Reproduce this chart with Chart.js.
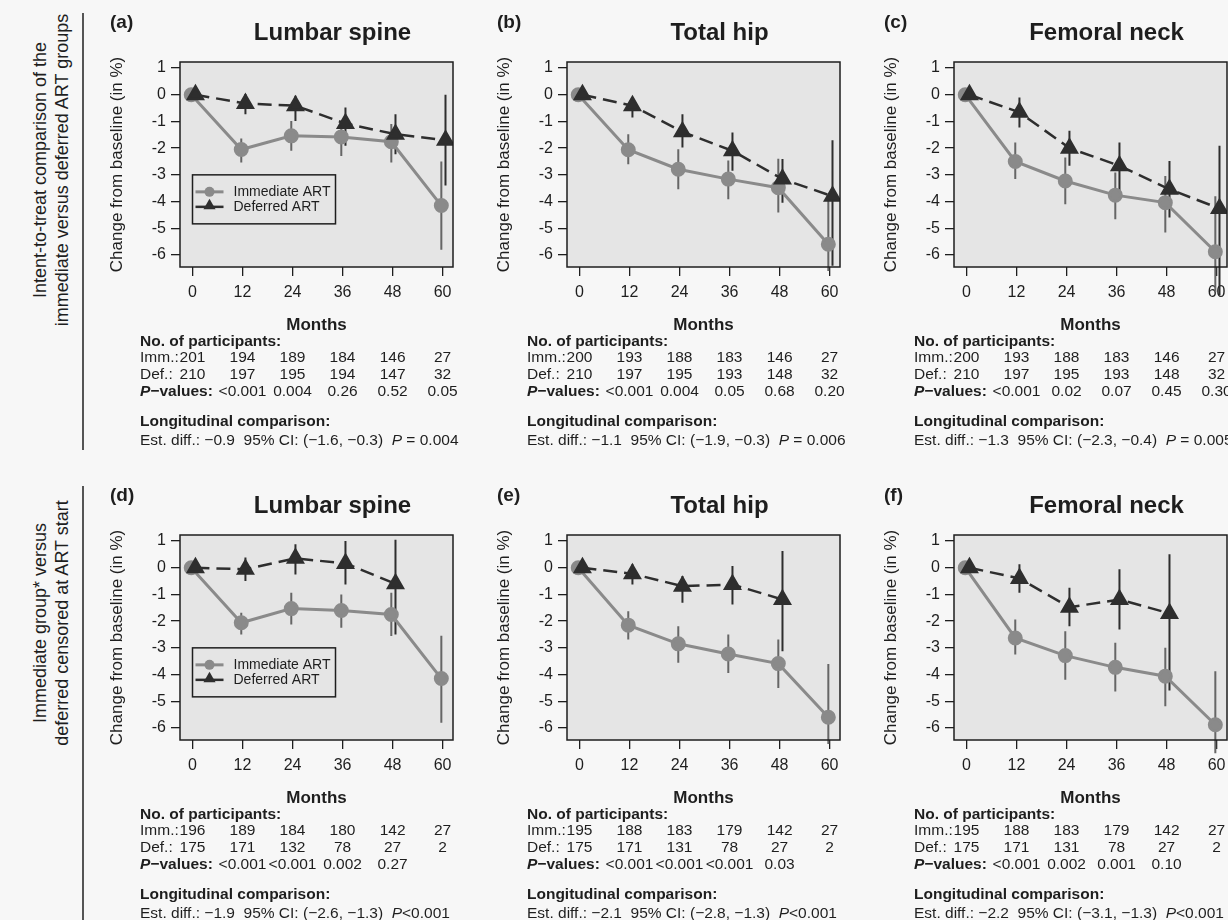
<!DOCTYPE html>
<html>
<head>
<meta charset="utf-8">
<script src="https://cdn.jsdelivr.net/npm/chart.js@4.4.1/dist/chart.umd.min.js"></script>
<style>
  html, body { margin: 0; padding: 0; }
  body {
    width: 1228px; height: 920px; overflow: hidden; position: relative;
    background: #f7f7f7; color: #1e1e1e;
    font-family: "Liberation Sans", Arial, sans-serif;
  }
  canvas.panel { position: absolute; }
  .rowlab {
    position: absolute; white-space: nowrap; text-align: center;
    font-size: 18px; line-height: 22px;
    transform: translate(-50%, -50%) rotate(-90deg);
  }
  .sep { position: absolute; left: 82px; width: 2px; background: #555; }
</style>
</head>
<body>
<div class="rowlab" style="left:51px; top:170px">Intent-to-treat comparison of the<br>immediate versus deferred ART groups</div>
<div class="rowlab" style="left:51px; top:623px">Immediate group* versus<br>deferred censored at ART start</div>
<div class="sep" style="top:13px; height:437px"></div>
<div class="sep" style="top:486px; height:434px"></div>

<script>
// shared axis values
const months = [0, 12, 24, 36, 48, 60];
const yTicks = [1, 0, -1, -2, -3, -4, -5, -6];

// (a) Lumbar spine, intent-to-treat
const aImm   = [0, -2.05, -1.54, -1.58, -1.76, -4.15];
const aImmHi = [null, -1.64, -0.98, -1.10, -1.10, -2.50];
const aImmLo = [null, -2.54, -2.10, -2.29, -2.54, -5.80];
const aDef   = [0, -0.33, -0.41, -1.08, -1.48, -1.70];
const aDefHi = [null, 0.03, -0.04, -0.48, -0.73, 0.00];
const aDefLo = [null, -0.73, -0.98, -1.91, -2.23, -3.40];
const aNImm = [201, 194, 189, 184, 146, 27];
const aNDef = [210, 197, 195, 194, 147, 32];
const aP = ['<0.001', '0.004', '0.26', '0.52', '0.05'];
const aEst = ['\u22120.9', '(\u22121.6, \u22120.3)', ' = 0.004'];

// (b) Total hip, intent-to-treat
const bImm   = [0, -2.06, -2.79, -3.16, -3.48, -5.60];
const bImmHi = [null, -1.48, -2.04, -2.46, -2.40, -3.90];
const bImmLo = [null, -2.60, -3.54, -3.91, -4.41, -6.60];
const bDef   = [0, -0.41, -1.39, -2.10, -3.16, -3.80];
const bDefHi = [null, -0.16, -0.73, -1.41, -2.41, -1.70];
const bDefLo = [null, -0.85, -1.98, -2.85, -4.04, -6.40];
const bNImm = [200, 193, 188, 183, 146, 27];
const bNDef = [210, 197, 195, 193, 148, 32];
const bP = ['<0.001', '0.004', '0.05', '0.68', '0.20'];
const bEst = ['\u22121.1', '(\u22121.9, \u22120.3)', ' = 0.006'];

// (c) Femoral neck, intent-to-treat
const cImm   = [0, -2.50, -3.23, -3.76, -4.04, -5.88];
const cImmHi = [null, -1.79, -2.35, -2.91, -3.04, -3.80];
const cImmLo = [null, -3.16, -4.10, -4.66, -5.16, -7.40];
const cDef   = [0, -0.66, -2.00, -2.66, -3.54, -4.26];
const cDefHi = [null, -0.10, -1.35, -1.79, -2.48, -1.91];
const cDefLo = [null, -1.23, -2.66, -3.66, -4.60, -7.50];
const cNImm = [200, 193, 188, 183, 146, 27];
const cNDef = [210, 197, 195, 193, 148, 32];
const cP = ['<0.001', '0.02', '0.07', '0.45', '0.30'];
const cEst = ['\u22121.3', '(\u22122.3, \u22120.4)', ' = 0.005'];

// (d) Lumbar spine, censored at ART start
const dImm   = [0, -2.06, -1.53, -1.60, -1.75, -4.15];
const dImmHi = [null, -1.69, -0.94, -1.00, -0.94, -2.55];
const dImmLo = [null, -2.50, -2.13, -2.25, -2.56, -5.80];
const dDef   = [0, -0.06, 0.35, 0.16, -0.60];
const dDefHi = [null, 0.38, 0.88, 1.00, 1.05];
const dDefLo = [null, -0.50, -0.25, -0.63, -2.50];
const dNImm = [196, 189, 184, 180, 142, 27];
const dNDef = [175, 171, 132, 78, 27, 2];
const dP = ['<0.001', '<0.001', '0.002', '0.27'];
const dEst = ['\u22121.9', '(\u22122.6, \u22121.3)', '<0.001'];

// (e) Total hip, censored at ART start
const eImm   = [0, -2.15, -2.85, -3.23, -3.59, -5.60];
const eImmHi = [null, -1.63, -2.19, -2.50, -2.69, -3.60];
const eImmLo = [null, -2.69, -3.56, -3.94, -4.50, -6.60];
const eDef   = [0, -0.23, -0.69, -0.63, -1.19];
const eDefHi = [null, 0.13, -0.31, 0.06, 0.63];
const eDefLo = [null, -0.63, -1.31, -1.38, -3.13];
const eNImm = [195, 188, 183, 179, 142, 27];
const eNDef = [175, 171, 131, 78, 27, 2];
const eP = ['<0.001', '<0.001', '<0.001', '0.03'];
const eEst = ['\u22122.1', '(\u22122.8, \u22121.3)', '<0.001'];

// (f) Femoral neck, censored at ART start
const fImm   = [0, -2.63, -3.29, -3.73, -4.06, -5.88];
const fImmHi = [null, -1.94, -2.38, -2.81, -3.00, -3.88];
const fImmLo = [null, -3.25, -4.19, -4.63, -5.19, -6.95];
const fDef   = [0, -0.40, -1.48, -1.19, -1.71];
const fDefHi = [null, 0.13, -0.75, -0.06, 0.50];
const fDefLo = [null, -0.94, -2.19, -2.31, -4.60];
const fNImm = [195, 188, 183, 179, 142, 27];
const fNDef = [175, 171, 131, 78, 27, 2];
const fP = ['<0.001', '0.002', '0.001', '0.10'];
const fEst = ['\u22122.2', '(\u22123.1, \u22121.3)', '<0.001'];

const panels = [
  { tag: '(a)', title: 'Lumbar spine', left: 180, top: 62, legend: true,
    imm: aImm, immHi: aImmHi, immLo: aImmLo, def: aDef, defHi: aDefHi, defLo: aDefLo,
    nImm: aNImm, nDef: aNDef, pv: aP, est: aEst },
  { tag: '(b)', title: 'Total hip', left: 567, top: 62,
    imm: bImm, immHi: bImmHi, immLo: bImmLo, def: bDef, defHi: bDefHi, defLo: bDefLo,
    nImm: bNImm, nDef: bNDef, pv: bP, est: bEst },
  { tag: '(c)', title: 'Femoral neck', left: 954, top: 62,
    imm: cImm, immHi: cImmHi, immLo: cImmLo, def: cDef, defHi: cDefHi, defLo: cDefLo,
    nImm: cNImm, nDef: cNDef, pv: cP, est: cEst },
  { tag: '(d)', title: 'Lumbar spine', left: 180, top: 535, legend: true,
    imm: dImm, immHi: dImmHi, immLo: dImmLo, def: dDef, defHi: dDefHi, defLo: dDefLo,
    nImm: dNImm, nDef: dNDef, pv: dP, est: dEst },
  { tag: '(e)', title: 'Total hip', left: 567, top: 535,
    imm: eImm, immHi: eImmHi, immLo: eImmLo, def: eDef, defHi: eDefHi, defLo: eDefLo,
    nImm: eNImm, nDef: eNDef, pv: eP, est: eEst },
  { tag: '(f)', title: 'Femoral neck', left: 954, top: 535,
    imm: fImm, immHi: fImmHi, immLo: fImmLo, def: fDef, defHi: fDefHi, defLo: fDefLo,
    nImm: fNImm, nDef: fNDef, pv: fP, est: fEst },
];

// --- look ---
const ink = '#1e1e1e';
const plotFill = '#e5e5e5';
const immColor = '#8a8a8a';
const immBarColor = '#666666';
const defColor = '#2e2e2e';
const FAMILY = '"Liberation Sans", Arial, sans-serif';
const TXT = 15.5;        // size of the table text under each plot
const immShift = -0.3;   // small horizontal dodge, in months
const defShift = 0.7;

// canvas geometry for one panel
const AXIS_W = 97, PAD_TOP = 62, PLOT_W = 273, PLOT_H = 205;
const CANVAS_W = 387, CANVAS_H = 455;

Chart.defaults.font.family = FAMILY;
Chart.defaults.color = ink;

function font(size, style) {
  return (style ? style + ' ' : '') + size + 'px ' + FAMILY;
}

function points(vals, shift) {
  return vals.map((v, i) => ({ x: months[i] + shift, y: v }));
}

// vertical CI segments, separated by null gaps
function bars(lo, hi, shift) {
  const pts = [];
  lo.forEach((v, i) => {
    if (v == null) return;
    const xm = months[i] + shift;
    pts.push({ x: xm, y: v }, { x: xm, y: hi[i] }, { x: xm, y: null });
  });
  return pts;
}

function drawTriangle(ctx, x, y, r) {
  ctx.beginPath();
  ctx.moveTo(x, y - r);
  ctx.lineTo(x + r * Math.cos(Math.PI / 6), y + r / 2);
  ctx.lineTo(x - r * Math.cos(Math.PI / 6), y + r / 2);
  ctx.closePath();
  ctx.fill();
}

// left-aligned text made of several font runs
function drawRuns(ctx, x, y, runs) {
  runs.forEach(([text, f]) => {
    ctx.font = f;
    ctx.fillText(text, x, y);
    x += ctx.measureText(text).width;
  });
}

function decor(p) {
  return {
    id: 'decor',
    beforeDraw(chart) {
      const { ctx, chartArea: a } = chart;
      ctx.save();
      ctx.fillStyle = plotFill;
      ctx.fillRect(a.left, a.top, a.right - a.left, a.bottom - a.top);
      ctx.restore();
    },
    afterDraw(chart) {
      const { ctx, chartArea: a, scales: { x, y } } = chart;
      const cx = (a.left + a.right) / 2;
      ctx.save();
      ctx.strokeStyle = ink;
      ctx.lineWidth = 1.5;
      ctx.strokeRect(a.left, a.top, a.right - a.left, a.bottom - a.top);

      ctx.fillStyle = ink;
      ctx.textBaseline = 'middle';
      ctx.textAlign = 'left';
      ctx.font = font(19, 'bold');
      ctx.fillText(p.tag, a.left - 70, a.top - 39);
      ctx.textAlign = 'center';
      ctx.font = font(24, 'bold');
      ctx.fillText(p.title, cx + 16, a.top - 29);
      ctx.font = font(17, 'bold');
      ctx.fillText('Months', cx, a.bottom + 58);

      // legend box
      if (p.legend) {
        const bx = x.getPixelForValue(0), by = y.getPixelForValue(-3);
        ctx.lineWidth = 1.5;
        ctx.strokeRect(bx, by, 143, 49);
        ctx.textAlign = 'left';
        ctx.font = font(14);
        // immediate
        ctx.strokeStyle = immColor; ctx.lineWidth = 3;
        ctx.beginPath(); ctx.moveTo(bx + 3, by + 17); ctx.lineTo(bx + 31, by + 17); ctx.stroke();
        ctx.fillStyle = immColor;
        ctx.beginPath(); ctx.arc(bx + 17, by + 17, 5, 0, Math.PI * 2); ctx.fill();
        // deferred
        ctx.strokeStyle = defColor; ctx.lineWidth = 2.5;
        ctx.beginPath(); ctx.moveTo(bx + 3, by + 32); ctx.lineTo(bx + 31, by + 32); ctx.stroke();
        ctx.fillStyle = defColor;
        drawTriangle(ctx, bx + 17, by + 31, 7);
        ctx.fillStyle = ink;
        ctx.fillText('Immediate ART', bx + 41, by + 17);
        ctx.fillText('Deferred ART', bx + 41, by + 32);
      }

      // participants / p-values table under the axis
      const tx = a.left - 40;
      const rowImm = a.bottom + 91, rowDef = a.bottom + 108, rowP = a.bottom + 125;
      ctx.textAlign = 'left';
      ctx.font = font(TXT, 'bold');
      ctx.fillText('No. of participants:', tx, a.bottom + 75);
      ctx.font = font(TXT);
      ctx.fillText('Imm.:', tx, rowImm);
      ctx.fillText('Def.:', tx, rowDef);
      drawRuns(ctx, tx, rowP, [['P', font(TXT, 'italic bold')], ['\u2212values:', font(TXT, 'bold')]]);
      ctx.font = font(TXT);
      ctx.textAlign = 'center';
      months.forEach((m, i) => {
        const px = x.getPixelForValue(m);
        ctx.fillText(String(p.nImm[i]), px, rowImm);
        ctx.fillText(String(p.nDef[i]), px, rowDef);
      });
      p.pv.forEach((v, i) => {
        ctx.fillText(v, x.getPixelForValue(months[i + 1]), rowP);
      });

      ctx.textAlign = 'left';
      ctx.font = font(TXT, 'bold');
      ctx.fillText('Longitudinal comparison:', tx, a.bottom + 155);
      drawRuns(ctx, tx, a.bottom + 174, [
        ['Est. diff.: ' + p.est[0] + '  95% CI: ' + p.est[1] + '  ', font(TXT)],
        ['P', font(TXT, 'italic')],
        [p.est[2], font(TXT)],
      ]);
      ctx.restore();
    }
  };
}

function makePanel(p) {
  const cv = document.createElement('canvas');
  cv.className = 'panel';
  cv.width = CANVAS_W;
  cv.height = CANVAS_H;
  cv.style.left = (p.left - AXIS_W) + 'px';
  cv.style.top = (p.top - PAD_TOP) + 'px';
  document.body.appendChild(cv);

  new Chart(cv, {
    type: 'line',
    data: {
      datasets: [
        { label: 'Immediate CI', data: bars(p.immLo, p.immHi, immShift),
          borderColor: immBarColor, borderWidth: 2, pointRadius: 0, clip: false, order: 3 },
        { label: 'Deferred CI', data: bars(p.defLo, p.defHi, defShift),
          borderColor: defColor, borderWidth: 2, pointRadius: 0, clip: false, order: 2 },
        { label: 'Immediate ART', data: points(p.imm, immShift),
          borderColor: immColor, borderWidth: 3, tension: 0,
          pointStyle: 'circle', pointRadius: 6,
          pointBackgroundColor: immColor, pointBorderColor: immColor, order: 1 },
        { label: 'Deferred ART', data: points(p.def, defShift),
          borderColor: defColor, borderWidth: 2.5, borderDash: [14, 7], tension: 0,
          pointStyle: 'triangle', pointRadius: 8.5,
          pointBackgroundColor: defColor, pointBorderColor: defColor, order: 0 },
      ]
    },
    options: {
      responsive: false,
      animation: false,
      devicePixelRatio: 1,
      layout: { padding: { top: PAD_TOP, left: 0, bottom: 0, right: CANVAS_W - AXIS_W - PLOT_W } },
      plugins: { legend: { display: false }, tooltip: { enabled: false } },
      scales: {
        x: {
          type: 'linear', min: -3, max: 62.5,
          afterBuildTicks: s => { s.ticks = months.map(v => ({ value: v })); },
          afterFit: s => { s.height = CANVAS_H - PAD_TOP - PLOT_H; },
          grid: { drawOnChartArea: false, tickLength: 9, color: ink, lineWidth: 1.3 },
          border: { display: false },
          ticks: { font: { size: 16 }, color: ink, padding: 7, maxRotation: 0, autoSkip: false }
        },
        y: {
          type: 'linear', min: -6.45, max: 1.225,
          afterBuildTicks: s => { s.ticks = yTicks.map(v => ({ value: v })); },
          afterFit: s => { s.width = AXIS_W; },
          grid: { drawOnChartArea: false, tickLength: 9, color: ink, lineWidth: 1.3 },
          border: { display: false },
          ticks: { font: { size: 16 }, color: ink, padding: 5, autoSkip: false },
          title: { display: true, text: 'Change from baseline (in %)',
                   font: { size: 17 }, color: ink, padding: { top: 24 } }
        }
      }
    },
    plugins: [decor(p)]
  });
}

panels.forEach(makePanel);
</script>
</body>
</html>
